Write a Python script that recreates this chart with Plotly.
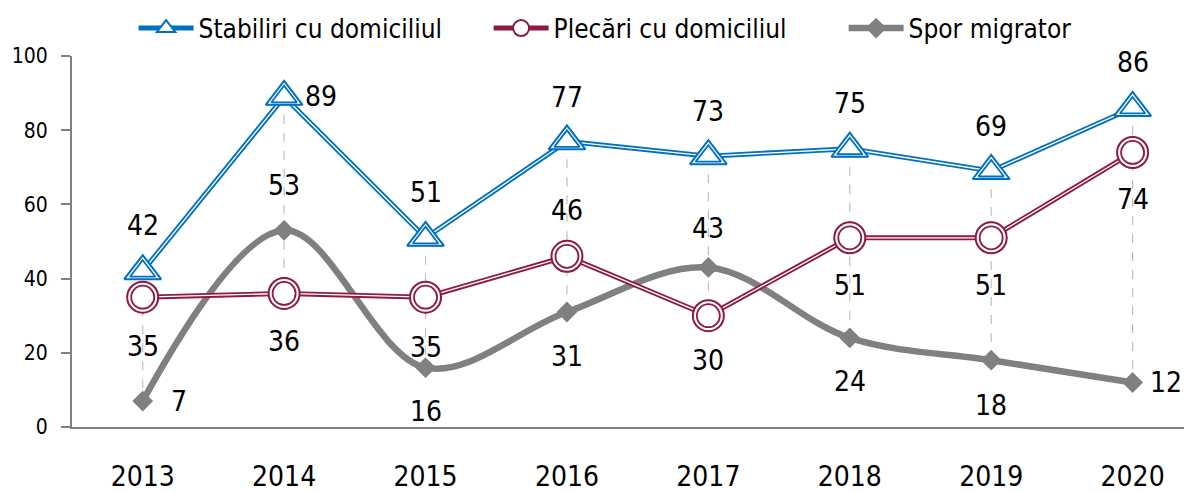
import plotly.graph_objects as go

years = ["2013", "2014", "2015", "2016", "2017", "2018", "2019", "2020"]
stabiliri = [42, 89, 51, 77, 73, 75, 69, 86]
plecari = [35, 36, 35, 46, 30, 51, 51, 74]
spor = [7, 53, 16, 31, 43, 24, 18, 12]
y_ticks = [0, 20, 40, 60, 80, 100]

names = ["Stabiliri cu domiciliul", "Plecări cu domiciliul", "Spor migrator"]
BLUE = "#0070C0"
RED = "#8E1A44"
GRAY = "#808080"
FONT = "DejaVu Sans Condensed, Liberation Sans Narrow, Roboto, sans-serif"

x = list(range(len(years)))
fig = go.Figure()

# high-low lines
hx, hy = [], []
for i in x:
    vals = [stabiliri[i], plecari[i], spor[i]]
    hx += [i, i, None]
    hy += [max(vals), min(vals), None]
fig.add_trace(go.Scatter(x=hx, y=hy, mode="lines", showlegend=False, hoverinfo="skip",
                         line=dict(color="#BFBFBF", width=1.2, dash="dash")))

# Spor migrator (smoothed)
fig.add_trace(go.Scatter(x=x, y=spor, mode="lines+markers", name=names[2],
                         line=dict(color=GRAY, width=6.5, shape="spline", smoothing=1),
                         marker=dict(symbol="diamond", size=16, color=GRAY)))

# Plecari - double line
fig.add_trace(go.Scatter(x=x, y=plecari, mode="lines+markers", name=names[1],
                         line=dict(color=RED, width=5),
                         marker=dict(symbol="circle", size=30, color="white", line=dict(color=RED, width=2))))
fig.add_trace(go.Scatter(x=x, y=plecari, mode="lines", showlegend=False, hoverinfo="skip",
                         line=dict(color="white", width=1.3)))
fig.add_trace(go.Scatter(x=x, y=plecari, mode="markers", showlegend=False, hoverinfo="skip",
                         marker=dict(symbol="circle", size=31, color="white", line=dict(color=RED, width=2))))
fig.add_trace(go.Scatter(x=x, y=plecari, mode="markers", showlegend=False, hoverinfo="skip",
                         marker=dict(symbol="circle", size=23, color="white", line=dict(color=RED, width=1.8))))

# Stabiliri - double line
fig.add_trace(go.Scatter(x=x, y=stabiliri, mode="lines+markers", name=names[0],
                         line=dict(color=BLUE, width=5),
                         marker=dict(symbol="triangle-up", size=30, color="white", line=dict(color=BLUE, width=2))))
fig.add_trace(go.Scatter(x=x, y=stabiliri, mode="lines", showlegend=False, hoverinfo="skip",
                         line=dict(color="white", width=1.3)))
fig.add_trace(go.Scatter(x=x, y=stabiliri, mode="markers", showlegend=False, hoverinfo="skip",
                         marker=dict(symbol="triangle-up", size=32, color="white", line=dict(color=BLUE, width=2))))
fig.add_trace(go.Scatter(x=x, y=stabiliri, mode="markers", showlegend=False, hoverinfo="skip",
                         marker=dict(symbol="triangle-up", size=22, color="white", line=dict(color=BLUE, width=1.8))))

# data labels: (dx, dy) offsets in px
stab_off = [(0, 46), (37, 0), (0, 45), (0, 44), (0, 45), (0, 45), (0, 45), (0, 45)]
plec_off = [(0, -49), (0, -48), (0, -50), (0, 46), (0, -45), (0, -48), (0, -48), (0, -47)]
spor_off = [(36, 0), (0, 45), (0, -44), (0, -45), (0, 39), (0, -44), (0, -45), (33, 0)]

annotations = []
for series, offs in ((stabiliri, stab_off), (plecari, plec_off), (spor, spor_off)):
    for i, v in enumerate(series):
        dx, dy = offs[i]
        annotations.append(dict(x=i, y=v, xref="x", yref="y", text=str(v), showarrow=False,
                                xshift=dx, yshift=dy,
                                font=dict(family=FONT, size=28, color="#000000")))

# page body has an 8px margin: figure is sized/placed to compensate
fig.update_layout(
    width=1184, height=484,
    margin=dict(l=64, r=0, t=48, b=65, autoexpand=False),
    paper_bgcolor="white", plot_bgcolor="white",
    font=dict(family=FONT, color="#000000"),
    annotations=annotations,
    legend=dict(orientation="h", x=0.055, xanchor="left", y=1.075, yanchor="middle",
                font=dict(family=FONT, size=26), traceorder="reversed",
                itemwidth=55, entrywidth=285, entrywidthmode="pixels",
                bgcolor="rgba(0,0,0,0)"),
    xaxis=dict(range=[-0.5, 7.42], tickmode="array", tickvals=x, ticktext=years,
               showgrid=False, zeroline=False, showline=True, linecolor=GRAY, linewidth=2,
               ticks="", tickfont=dict(family=FONT, size=28), ticklabelstandoff=23),
    yaxis=dict(range=[0, 100], tickmode="array", tickvals=y_ticks,
               showgrid=False, zeroline=False, showline=True, linecolor=GRAY, linewidth=2,
               ticks="outside", ticklen=9, tickcolor=GRAY, tickwidth=2,
               tickfont=dict(family=FONT, size=21), ticklabelstandoff=9),
)

fig.write_html("out.html")
